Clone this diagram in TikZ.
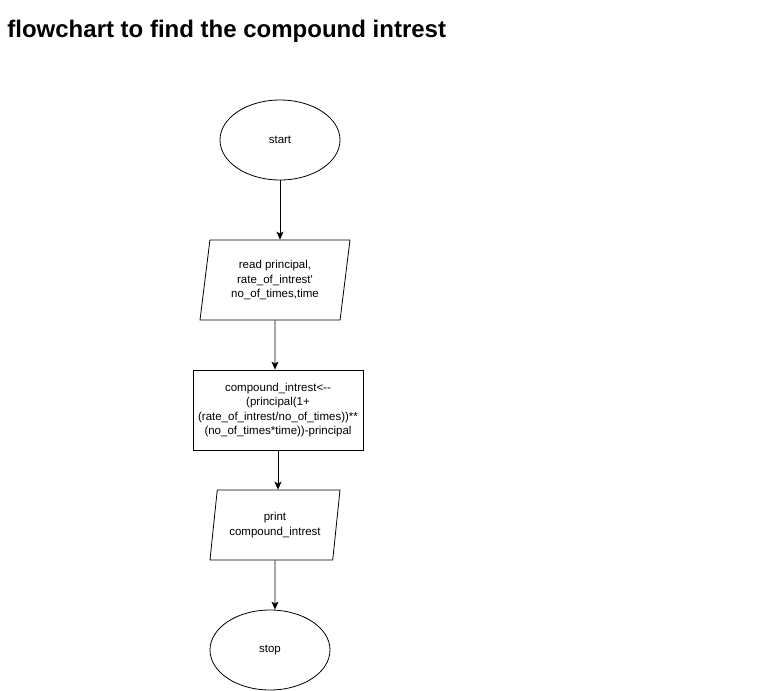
\documentclass[tikz,border=0pt]{standalone}
\usepackage{fontspec}
\setmainfont{Liberation Sans}
\usepackage{tikz}
\usetikzlibrary{shapes.geometric,arrows.meta,positioning}
\tikzset{
    terminal/.style={ellipse, draw, minimum width=120pt, minimum height=80pt, inner sep=0pt},
    io/.style={trapezium, draw, trapezium stretches body, inner sep=0pt, align=center},
    process/.style={rectangle, draw, minimum width=170pt, minimum height=80pt, inner sep=0pt, align=center},
    every node/.style={font=\fontsize{11.5}{14.6}\selectfont},
}

\begin{document}
\begin{tikzpicture}[x=1pt,y=-1pt,line width=0.8pt,>={Stealth[length=8pt,width=7pt,inset=2pt]}]
   \useasboundingbox (0,0) rectangle (761,691);
   \node[anchor=base west, inner sep=0pt, font=\fontsize{24}{28}\bfseries] (title) at (7,37)
      {flowchart to find the compound intrest};
   \node[terminal] (start) at (280,140) {start};
   \node[io, trapezium left angle=76, trapezium right angle=104,
         minimum width=150pt, minimum height=80pt] (read) at (275,280)
      {read principal,\\rate\_of\_intrest\textquotesingle\\no\_of\_times,time};
   \node[process] (calc) at (278,410)
      {compound\_intrest<{-}{-}\\(principal(1+\\(rate\_of\_intrest/no\_of\_times))**\\(no\_of\_times*time))-principal};
   \node[io, trapezium left angle=74, trapezium right angle=106,
         minimum width=130pt, minimum height=70pt] (print) at (275,525)
      {print\\compound\_intrest};
   \node[terminal] (stop) at (270,650) {stop};
    \path[->]
    (start) edge (start |- read.north)
    (read)  edge (read |- calc.north)
    (calc)  edge (calc |- print.north)
    (print) edge (print |- stop.north);
\end{tikzpicture}
\end{document}
